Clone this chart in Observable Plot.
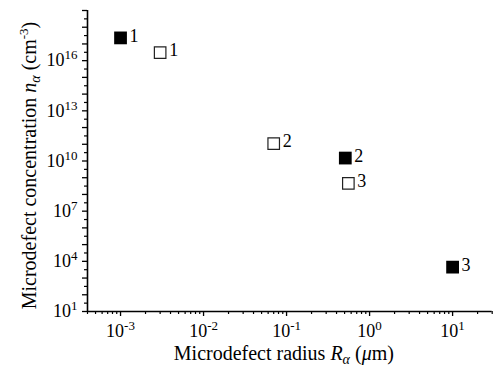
<!DOCTYPE html>
<html><head><meta charset="utf-8">
<script src="https://cdn.jsdelivr.net/npm/d3@7"></script>
<script src="https://cdn.jsdelivr.net/npm/@observablehq/plot@0.6"></script>
<style>
body{margin:0;background:#fff}
#chart svg, #chart svg text, #chart svg tspan { font-family: "Liberation Serif", "DejaVu Serif", serif !important; }
</style>
</head><body><div id="chart"></div>
<script>
// Filled squares
const filledR = [0.001, 0.51, 10];
const filledN = [2.3e17, 1.5e10, 4.5e3];
const filledLabels = ["1", "2", "3"];
// Open squares
const openR = [0.003, 0.07, 0.555];
const openN = [3e16, 1.1e11, 4.6e8];
const openLabels = ["1", "2", "3"];
// Axes
const xDomain = [4e-4, 30];
const yDomain = [1e1, 1e19];
const xTickValues = [1e-3, 1e-2, 1e-1, 1, 10];
const yTickValues = [1e1, 1e4, 1e7, 1e10, 1e13, 1e16];
const xLabel = "Microdefect radius Rα (μm)";
const yLabel = "Microdefect concentration nα (cm-3)";

const filled = filledR.map((r, i) => ({r, n: filledN[i], label: filledLabels[i]}));
const open = openR.map((r, i) => ({r, n: openN[i], label: openLabels[i]}));

const xMinor = [];
for (let k = -4; k <= 1; k++) for (let m = 2; m <= 9; m++) {
  const v = m * Math.pow(10, k);
  if (v >= xDomain[0] && v <= xDomain[1]) xMinor.push(v);
}
const yDecades = [], yHalf = [];
for (let k = 1; k <= 19; k++) yDecades.push(Math.pow(10, k));
for (let k = 1; k < 19; k++) yHalf.push(Math.pow(10, k + 0.5));

const fmt = d => "10^" + Math.round(Math.log10(d));

const plot = Plot.plot({
  width: 493, height: 366,
  marginLeft: 87, marginRight: 1.3, marginTop: 10, marginBottom: 55,
  style: {fontFamily: "Liberation Serif", fontSize: "18px", color: "#000", background: "#fff", overflow: "visible"},
  x: {type: "log", domain: xDomain},
  y: {type: "log", domain: yDomain},
  marks: [
    Plot.axisX(xTickValues, {tickSize: 5, tickPadding: 8, tickFormat: fmt, label: null, strokeWidth: 1.3, fontSize: 18}),
    Plot.axisX(xMinor, {tickSize: 3, tickFormat: () => "", label: null, strokeWidth: 1.2}),
    Plot.axisY(yDecades, {tickSize: 5, tickPadding: 5, tickFormat: d => yTickValues.includes(d) ? fmt(d) : "", label: null, strokeWidth: 1.3, fontSize: 18}),
    Plot.axisY(yHalf, {tickSize: 3, tickFormat: () => "", label: null, strokeWidth: 1.2}),
    Plot.ruleY([yDomain[0]], {stroke: "#000", strokeWidth: 1.6}),
    Plot.ruleX([xDomain[0]], {stroke: "#000", strokeWidth: 1.6}),
    Plot.dot(filled, {x: "r", y: "n", symbol: "square", r: 7.2, fill: "#000", stroke: "none"}),
    Plot.dot(open, {x: "r", y: "n", symbol: "square", r: 6.5, fill: "#fff", stroke: "#222", strokeWidth: 1.2}),
    Plot.text(filled, {x: "r", y: "n", text: "label", dx: 9, dy: -2, textAnchor: "start", fontSize: 18}),
    Plot.text(open, {x: "r", y: "n", text: "label", dx: 9, dy: -2, textAnchor: "start", fontSize: 18}),
    Plot.text([xLabel], {frameAnchor: "bottom", text: d => d, dx: -6, dy: 48, textAnchor: "middle", lineAnchor: "bottom", fontSize: 20}),
    Plot.text([yLabel], {frameAnchor: "left", text: d => d, dx: -52, dy: 4.5, rotate: -90, textAnchor: "middle", lineAnchor: "bottom", fontSize: 20})
  ]
});
document.getElementById("chart").appendChild(plot);

const FF = '"Liberation Serif", "DejaVu Serif", serif';
const svg = d3.select(plot);
svg.attr("font-family", FF);
svg.selectAll("g").attr("font-family", FF);
svg.selectAll("text").attr("font-family", FF).style("font-family", FF).style("font-size", "18px").attr("fill", "#000");
svg.selectAll("text").each(function () {
  const t = this.textContent;
  const s = d3.select(this);
  if (/^10\^-?\d+$/.test(t)) {
    const e = t.slice(3);
    s.text(null);
    s.append("tspan").text("10");
    s.append("tspan").style("font-size", "13px").attr("dy", -7).text(e);
  } else if (t === xLabel) {
    s.style("font-size", "20px").text(null);
    s.append("tspan").text("Microdefect radius ");
    s.append("tspan").style("font-style", "italic").text("R");
    s.append("tspan").style("font-style", "italic").style("font-size", "14px").attr("dy", 4).text("α");
    s.append("tspan").attr("dy", -4).text(" (");
    s.append("tspan").style("font-style", "italic").text("μ");
    s.append("tspan").text("m)");
  } else if (t === yLabel) {
    s.style("font-size", "20px").text(null);
    s.append("tspan").text("Microdefect concentration ");
    s.append("tspan").style("font-style", "italic").text("n");
    s.append("tspan").style("font-style", "italic").style("font-size", "14px").attr("dy", 4).text("α");
    s.append("tspan").attr("dy", -4).text(" (cm");
    s.append("tspan").style("font-size", "13px").attr("dy", -8).text("-3");
    s.append("tspan").attr("dy", 8).text(")");
  }
});
</script>
</body></html>
